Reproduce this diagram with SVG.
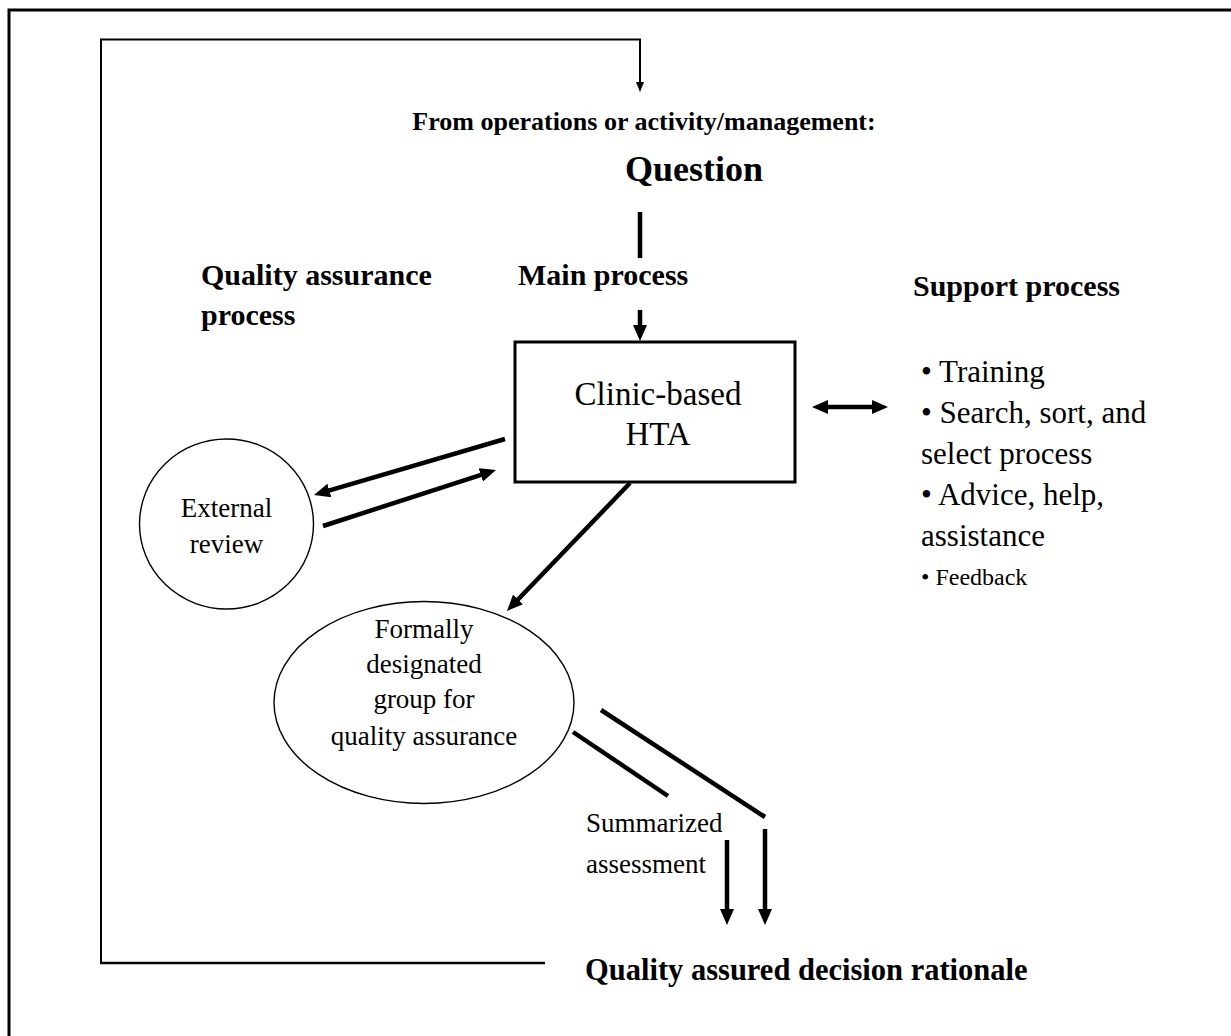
<svg xmlns="http://www.w3.org/2000/svg" width="1231" height="1036" viewBox="0 0 1231 1036">
<style>
  text { font-family: "Liberation Serif", "Times New Roman", serif; fill: #000; }
  .hb { font-weight: bold; font-size: 30px; }
  .t { font-size: 27px; }
  .lst { font-size: 31px; }
  .thin { fill: none; stroke: #000; stroke-width: 2; }
  .thick { fill: none; stroke: #000; stroke-width: 4.5; }
  .shape { fill: #fff; stroke: #000; stroke-width: 1.4; }
</style>
<defs>
  <marker id="ah" viewBox="0 0 16 14" refX="6" refY="7" markerWidth="16" markerHeight="14" markerUnits="userSpaceOnUse" orient="auto-start-reverse">
    <path d="M0,0 L16,7 L0,14 z" fill="#000"/>
  </marker>
  <marker id="ahs" viewBox="0 0 10 8" refX="5" refY="4" markerWidth="10" markerHeight="8" markerUnits="userSpaceOnUse" orient="auto">
    <path d="M0,0 L10,4 L0,8 z" fill="#000"/>
  </marker>
</defs>
<rect width="1231" height="1036" fill="#fff"/>
<path d="M9,1036 V10 H1231" fill="none" stroke="#000" stroke-width="3"/>

<g id="connectors">
  <path class="thin" d="M101,963 V39.5 H640 V87" marker-end="url(#ahs)"/>
  <line x1="100" y1="963" x2="545" y2="963" stroke="#000" stroke-width="2.6"/>
  <line class="thick" x1="640" y1="212" x2="640" y2="258"/>
  <line class="thick" x1="640" y1="310" x2="640" y2="331" marker-end="url(#ah)"/>
  <line class="thick" x1="822" y1="407" x2="878" y2="407" marker-start="url(#ah)" marker-end="url(#ah)"/>
  <line class="thick" x1="505" y1="439" x2="323.6" y2="492.2" marker-end="url(#ah)"/>
  <line class="thick" x1="323" y1="526" x2="486.5" y2="473.1" marker-end="url(#ah)"/>
  <line class="thick" x1="630" y1="483" x2="513.9" y2="603.8" marker-end="url(#ah)"/>
  <line class="thick" x1="573" y1="732" x2="668" y2="796"/>
  <line class="thick" x1="601" y1="710" x2="765" y2="817"/>
  <line class="thick" x1="727" y1="840" x2="727" y2="915" marker-end="url(#ah)"/>
  <line class="thick" x1="765" y1="829" x2="765" y2="915" marker-end="url(#ah)"/>
</g>

<g id="question">
  <text class="hb" x="644" y="130" text-anchor="middle" style="font-size:26px">From operations or activity/management:</text>
  <text class="hb" x="694" y="181" text-anchor="middle" style="font-size:36px">Question</text>
</g>

<g id="qa-label">
  <text class="hb" x="201" y="285">Quality assurance</text>
  <text class="hb" x="201" y="325">process</text>
</g>

<g id="main-label">
  <text class="hb" x="518" y="285">Main process</text>
</g>

<g id="support-label">
  <text class="hb" x="913" y="296">Support process</text>
</g>

<g id="hta">
  <rect x="515" y="342" width="280" height="140" fill="#fff" stroke="#000" stroke-width="3"/>
  <text x="658" y="405" text-anchor="middle" style="font-size:33px">Clinic-based</text>
  <text x="658" y="445" text-anchor="middle" style="font-size:33px">HTA</text>
</g>

<g id="support-list">
  <text class="lst" x="921" y="382">• Training</text>
  <text class="lst" x="921" y="423">• Search, sort, and</text>
  <text class="lst" x="921" y="464">select process</text>
  <text class="lst" x="921" y="505">• Advice, help,</text>
  <text class="lst" x="921" y="546">assistance</text>
  <text x="921" y="585" style="font-size:24px">• Feedback</text>
</g>

<g id="external-review">
  <ellipse class="shape" cx="226.5" cy="524" rx="87" ry="85"/>
  <text class="t" x="226.5" y="517" text-anchor="middle">External</text>
  <text class="t" x="226.5" y="553" text-anchor="middle">review</text>
</g>

<g id="qa-group">
  <ellipse class="shape" cx="424" cy="702.5" rx="150" ry="101"/>
  <text class="t" x="424" y="638" text-anchor="middle">Formally</text>
  <text class="t" x="424" y="673" text-anchor="middle">designated</text>
  <text class="t" x="424" y="708" text-anchor="middle">group for</text>
  <text class="t" x="424" y="745" text-anchor="middle">quality assurance</text>
</g>

<g id="summarized">
  <text class="t" x="586" y="832">Summarized</text>
  <text class="t" x="586" y="873">assessment</text>
</g>

<g id="decision">
  <text class="hb" x="585" y="980" style="font-size:30.5px">Quality assured decision rationale</text>
</g>
</svg>
